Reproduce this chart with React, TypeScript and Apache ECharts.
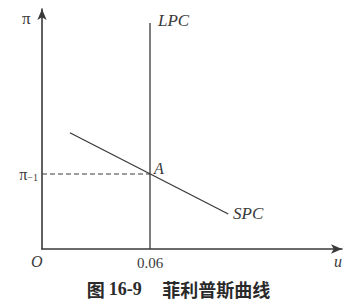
import React, { useEffect, useRef } from "react";
import * as echarts from "echarts";

const lpcU = [0.06, 0.06];
const lpcPi = [0, 9.04];
const spcU = [0.0155, 0.1035];
const spcPi = [4.65, 1.4];
const dashU = [0, 0.06];
const dashPi = [3, 3];
const xTickLabels: Record<string, string> = { "0.06": "0.06" };
const yTickLabels: Record<string, string> = { "3": "{a|π}{b|−1}" };

const ink = "#3a3a3a";
const serif = "Liberation Serif";

export default function App() {
  const ref = useRef<HTMLDivElement>(null);
  useEffect(() => {
    const chart = echarts.init(ref.current!, null, { renderer: "svg" });
    const pairs = (xs: number[], ys: number[]) => xs.map((x, i) => [x, ys[i]]);
    chart.setOption({
      animation: false,
      backgroundColor: "#ffffff",
      grid: { left: 42, top: 9, width: 300, height: 240, containLabel: false },
      xAxis: {
        type: "value",
        min: 0,
        max: 1 / 6,
        interval: 0.06,
        axisLine: {
          lineStyle: { color: ink, width: 1.6 },
          symbol: ["none", "arrow"],
          symbolSize: [7, 11],
          symbolOffset: [0, 0],
        },
        axisTick: { show: false },
        splitLine: { show: false },
        axisLabel: {
          margin: 6,
          showMaxLabel: false,
          color: ink,
          fontFamily: serif,
          fontSize: 15,
          formatter: (v: number) => xTickLabels[String(Math.round(v * 100) / 100)] || "",
        },
      },
      yAxis: {
        type: "value",
        min: 0,
        max: 9.6,
        interval: 3,
        axisLine: {
          lineStyle: { color: ink, width: 1.6 },
          symbol: ["none", "arrow"],
          symbolSize: [7, 11],
          symbolOffset: [0, 0],
        },
        axisTick: { show: false },
        splitLine: { show: false },
        axisLabel: {
          margin: 4,
          showMaxLabel: false,
          color: ink,
          formatter: (v: number) => yTickLabels[String(v)] || "",
          rich: {
            a: { fontFamily: serif, fontSize: 16, color: ink },
            b: { fontFamily: serif, fontSize: 10, color: ink, verticalAlign: "bottom", padding: [6, 0, 0, 0] },
          },
        },
      },
      series: [
        {
          type: "line",
          data: pairs(lpcU, lpcPi),
          symbol: "none",
          lineStyle: { color: ink, width: 1.3 },
        },
        {
          type: "line",
          data: pairs(spcU, spcPi),
          symbol: "none",
          lineStyle: { color: ink, width: 1.3 },
        },
        {
          type: "line",
          data: pairs(dashU, dashPi),
          symbol: "none",
          lineStyle: { color: ink, width: 1.1, type: [5, 3] },
        },
      ],
      graphic: [
        { type: "text", left: 22, top: 10, style: { text: "π", font: `17px ${serif}`, fill: ink } },
        { type: "text", left: 158, top: 12, style: { text: "LPC", font: `italic 17px ${serif}`, fill: ink } },
        { type: "text", left: 154, top: 160, style: { text: "A", font: `italic 16px ${serif}`, fill: ink } },
        { type: "text", left: 233, top: 205, style: { text: "SPC", font: `italic 17px ${serif}`, fill: ink } },
        { type: "text", left: 31, top: 253, style: { text: "O", font: `italic 16px ${serif}`, fill: ink } },
        { type: "text", left: 334, top: 253, style: { text: "u", font: `italic 16px ${serif}`, fill: ink } },
        {
          type: "text",
          left: "center",
          top: 280,
          style: {
            text: "{h|图} {n|16-9}     {h|菲利普斯曲线}",
            fill: "#2a2a2a",
            rich: {
              h: { fontFamily: "Noto Sans CJK SC", fontWeight: "bold", fontSize: 18, fill: "#2a2a2a" },
              n: { fontFamily: serif, fontWeight: "bold", fontSize: 18, fill: "#2a2a2a" },
            },
            font: `bold 18px "Noto Sans CJK SC"`,
          },
        },
      ],
    });
    return () => chart.dispose();
  }, []);
  return (
    <div
      ref={ref}
      style={{ position: "fixed", left: 0, top: 0, width: 357, height: 306 }}
    />
  );
}
